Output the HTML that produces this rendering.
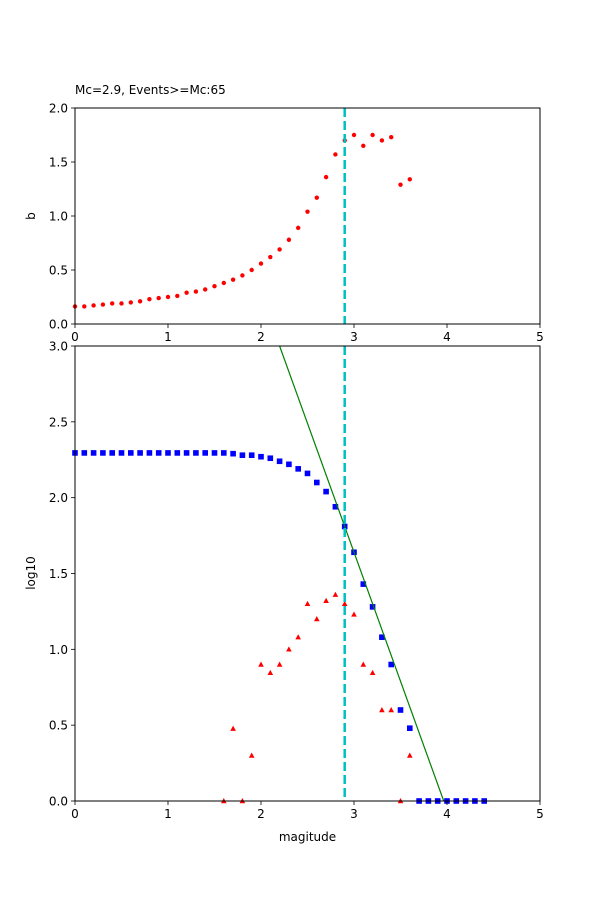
<!DOCTYPE html>
<html><head><meta charset="utf-8"><style>body{margin:0;background:#fff}svg{display:block;font-family:"DejaVu Sans","Liberation Sans",sans-serif}</style></head>
<body>
<svg id="s" width="600" height="900" xmlns="http://www.w3.org/2000/svg"></svg>
<script>
const bMags=[0,0.1,0.2,0.3,0.4,0.5,0.6,0.7,0.8,0.9,1.0,1.1,1.2,1.3,1.4,1.5,1.6,1.7,1.8,1.9,2.0,2.1,2.2,2.3,2.4,2.5,2.6,2.7,2.8,2.9,3.0,3.1,3.2,3.3,3.4,3.5,3.6];
const bValues=[0.163,0.163,0.172,0.18,0.19,0.19,0.2,0.21,0.23,0.24,0.25,0.26,0.29,0.30,0.32,0.35,0.38,0.41,0.45,0.50,0.56,0.62,0.69,0.78,0.89,1.04,1.17,1.36,1.57,1.70,1.75,1.65,1.75,1.70,1.73,1.29,1.34];
const cumMags=[0,0.1,0.2,0.3,0.4,0.5,0.6,0.7,0.8,0.9,1.0,1.1,1.2,1.3,1.4,1.5,1.6,1.7,1.8,1.9,2.0,2.1,2.2,2.3,2.4,2.5,2.6,2.7,2.8,2.9,3.0,3.1,3.2,3.3,3.4,3.5,3.6,3.7,3.8,3.9,4.0,4.1,4.2,4.3,4.4];
const cumLog=[2.295,2.295,2.295,2.295,2.295,2.295,2.295,2.295,2.295,2.295,2.295,2.295,2.295,2.295,2.295,2.295,2.295,2.29,2.28,2.28,2.27,2.26,2.24,2.22,2.19,2.16,2.10,2.04,1.94,1.81,1.64,1.43,1.28,1.08,0.90,0.60,0.48,0,0,0,0,0,0,0,0];
const ncMags=[1.6,1.7,1.8,1.9,2.0,2.1,2.2,2.3,2.4,2.5,2.6,2.7,2.8,2.9,3.0,3.1,3.2,3.3,3.4,3.5,3.6];
const ncLog=[0,0.477,0,0.30,0.90,0.845,0.90,1.0,1.08,1.30,1.20,1.32,1.36,1.30,1.23,0.90,0.845,0.60,0.60,0,0.30];
const fitA=6.74, fitB=1.70, Mc=2.9;
const xTicks=[0,1,2,3,4,5];
const bTicks=[0,0.5,1.0,1.5,2.0];
const lTicks=[0,0.5,1.0,1.5,2.0,2.5,3.0];

const svg=document.getElementById('s');
const NS='http://www.w3.org/2000/svg';
function mk(tag,attrs,parent){const e=document.createElementNS(NS,tag);for(const k in attrs)e.setAttribute(k,attrs[k]);(parent||svg).appendChild(e);return e;}
const L=75,R=540;
const X=v=>L+(v/5)*(R-L);
const axTop={t:108,b:324,max:2}, axBot={t:346,b:801,max:3};
const Yt=v=>axTop.b-(v/axTop.max)*(axTop.b-axTop.t);
const Yb=v=>axBot.b-(v/axBot.max)*(axBot.b-axBot.t);

function axes(ax,Y,ticks,fmt,name){
  const g=mk('g',{});
  
  
  xTicks.forEach(t=>{mk('line',{x1:X(t),x2:X(t),y1:ax.b,y2:ax.b+4,stroke:'#000','stroke-width':0.8},g);
    const tx=mk('text',{x:X(t),y:ax.b+17,'font-size':12,'text-anchor':'middle'},g);tx.textContent=t;
    });
  ticks.forEach(t=>{mk('line',{x1:L-4,x2:L,y1:Y(t),y2:Y(t),stroke:'#000','stroke-width':0.8},g);
    const tx=mk('text',{x:L-7,y:Y(t)+4.5,'font-size':12,'text-anchor':'end'},g);tx.textContent=fmt(t);
    });
  return g;
}
const gt=mk('g',{});


mk('rect',{x:L,y:axTop.t,width:R-L,height:axTop.b-axTop.t,fill:'#fff'},gt);
bMags.forEach((m,i)=>{const c=mk('circle',{cx:X(m),cy:Yt(bValues[i]),r:2.2,fill:'red'},gt);
  });
const mc1=mk('line',{x1:X(Mc),x2:X(Mc),y1:axTop.t,y2:axTop.b,stroke:'#00bfbf','stroke-width':2.5,'stroke-dasharray':'9,4'},gt);

mk('rect',{x:L,y:axTop.t,width:R-L,height:axTop.b-axTop.t,fill:'none',stroke:'#000','stroke-width':1},gt);
axes(axTop,Yt,bTicks,t=>t.toFixed(1),'top-axes');
const tt=mk('text',{x:L,y:94,'font-size':12});tt.textContent='Mc=2.9, Events>=Mc:65';

const yl1=mk('text',{x:35,y:216,'font-size':12,'text-anchor':'middle',transform:'rotate(-90 35 216)'});yl1.textContent='b';


const gb=mk('g',{});


mk('rect',{x:L,y:axBot.t,width:R-L,height:axBot.b-axBot.t,fill:'#fff'},gb);
const cp=mk('clipPath',{id:'cb'},gb);mk('rect',{x:L,y:axBot.t,width:R-L,height:axBot.b-axBot.t},cp);
cumMags.forEach((m,i)=>{const r=mk('rect',{x:X(m)-2.8,y:Yb(cumLog[i])-2.8,width:5.6,height:5.6,fill:'blue'},gb);
  });
ncMags.forEach((m,i)=>{const x=X(m),y=Yb(ncLog[i]);const p=mk('polygon',{points:`${x},${y-3} ${x-2.8},${y+2.2} ${x+2.8},${y+2.2}`,fill:'red'},gb);
  });
const x0=(fitA-axBot.max)/fitB, x1=fitA/fitB;
const fl=mk('line',{x1:X(x0),y1:Yb(axBot.max),x2:X(x1),y2:Yb(0),stroke:'green','stroke-width':1.2,'clip-path':'url(#cb)'},gb);

const mc2=mk('line',{x1:X(Mc),x2:X(Mc),y1:axBot.t,y2:axBot.b,stroke:'#00bfbf','stroke-width':2.5,'stroke-dasharray':'9,4'},gb);

mk('rect',{x:L,y:axBot.t,width:R-L,height:axBot.b-axBot.t,fill:'none',stroke:'#000','stroke-width':1},gb);
axes(axBot,Yb,lTicks,t=>t.toFixed(1),'bottom-axes');
const xl=mk('text',{x:307.5,y:841,'font-size':12,'text-anchor':'middle'});xl.textContent='magitude';

const yl2=mk('text',{x:35,y:573,'font-size':12,'text-anchor':'middle',transform:'rotate(-90 35 573)'});yl2.textContent='log10';

</script>
</body></html>
